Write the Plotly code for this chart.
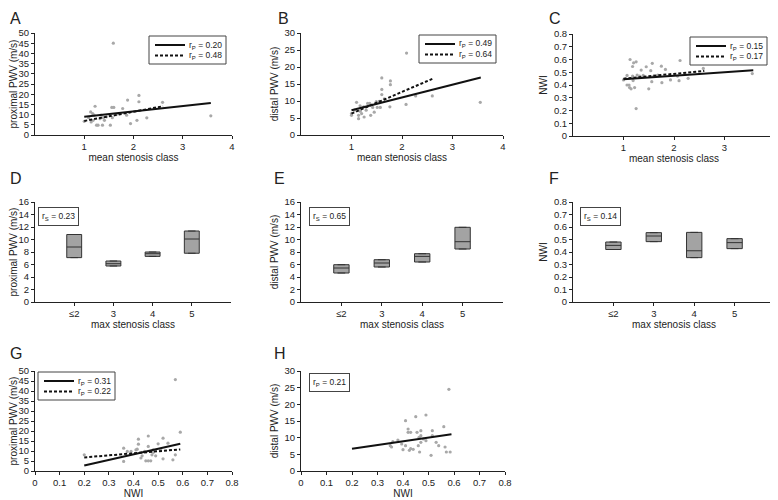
import plotly.graph_objects as go

# ---- scatter data ----
a_x = [1.0, 1.13, 1.17, 1.22, 1.2, 1.14, 1.25, 1.28, 1.37, 1.32, 1.38, 1.41, 1.45, 1.53, 1.57,
       1.56, 1.6, 1.59, 1.65, 1.78, 1.86, 1.88, 1.94, 2.11, 2.11, 2.07, 2.27, 2.59, 3.57, 1.09,
       1.34, 1.71, 1.18]
a_y = [6.7, 11.3, 10.5, 14.1, 9.7, 6.4, 4.8, 4.8, 4.8, 8.0, 8.5, 7.2, 8.9, 4.8, 8.5,
       13.5, 13.5, 45.0, 10.0, 13.0, 9.7, 17.1, 5.6, 19.4, 16.3, 7.2, 8.4, 16.0, 9.4, 8.5,
       9.7, 10.5, 7.2]

b_x = [1.0, 1.0, 1.1, 1.14, 1.14, 1.17, 1.2, 1.24, 1.25, 1.29, 1.32, 1.36, 1.38, 1.42, 1.45,
       1.49, 1.51, 1.57, 1.6, 1.6, 1.6, 1.76, 1.77, 1.77, 2.08, 2.09, 2.27, 2.6, 3.55, 1.17,
       1.06, 1.55, 1.65]
b_y = [5.8, 6.3, 9.6, 4.8, 5.8, 7.0, 6.3, 8.3, 5.3, 7.3, 9.3, 9.3, 5.8, 8.1, 6.7,
       9.8, 8.1, 8.1, 16.8, 13.4, 11.9, 8.3, 15.9, 14.8, 9.0, 24.1, 11.5, 11.5, 9.6, 8.6,
       7.3, 9.9, 10.6]

c_x = [1.0, 1.07, 1.11, 1.12, 1.13, 1.15, 1.18, 1.2, 1.22, 1.25, 1.25, 1.19, 1.27, 1.32, 1.35,
       1.39, 1.45, 1.5, 1.54, 1.56, 1.57, 1.6, 1.68, 1.75, 1.76, 1.83, 1.93, 2.07, 2.12, 2.1,
       2.28, 2.58, 3.55, 1.07, 1.18]
c_y = [0.44, 0.475, 0.40, 0.38, 0.60, 0.37, 0.545, 0.574, 0.38, 0.582, 0.215, 0.435, 0.478, 0.47, 0.517,
       0.475, 0.543, 0.37, 0.512, 0.426, 0.57, 0.47, 0.478, 0.548, 0.418, 0.522, 0.44, 0.47, 0.592, 0.434,
       0.452, 0.53, 0.49, 0.40, 0.47]

g_x = [0.2, 0.36, 0.36, 0.39, 0.41, 0.415, 0.42, 0.42, 0.43, 0.435, 0.445, 0.45, 0.46, 0.46, 0.47,
       0.475, 0.48, 0.49, 0.5, 0.51, 0.52, 0.52, 0.54, 0.56, 0.57, 0.57, 0.59, 0.46, 0.48, 0.375]
g_y = [8.1, 11.4, 4.8, 9.8, 10.6, 10.9, 13.4, 15.9, 6.5, 7.6, 9.8, 5.1, 12.3, 5.1, 5.1,
       8.1, 10.6, 7.6, 13.6, 10.6, 6.1, 16.4, 13.9, 5.6, 8.1, 45.7, 19.4, 17.5, 9.3, 9.8]

h_x = [0.35, 0.355, 0.36, 0.38, 0.395, 0.4, 0.41, 0.41, 0.42, 0.42, 0.425, 0.43, 0.43, 0.45, 0.44,
       0.455, 0.46, 0.465, 0.47, 0.47, 0.47, 0.48, 0.49, 0.49, 0.51, 0.515, 0.515, 0.53, 0.54, 0.56,
       0.565, 0.57, 0.58, 0.585, 0.463]
h_y = [7.6, 7.2, 8.8, 9.3, 8.1, 6.4, 15.1, 7.6, 12.6, 11.6, 6.2, 11.6, 6.7, 16.3, 6.5,
       11.6, 7.6, 5.7, 12.1, 10.6, 8.6, 9.6, 16.8, 9.1, 4.7, 12.1, 10.6, 8.6, 7.6, 13.3,
       7.2, 5.7, 24.5, 5.7, 10.1]

# ---- regression line endpoints ----
a_fit1_x, a_fit1_y = [1.0, 3.57], [9.0, 15.7]
a_fit2_x, a_fit2_y = [1.0, 2.6], [6.9, 14.1]
b_fit1_x, b_fit1_y = [1.0, 3.56], [7.3, 16.9]
b_fit2_x, b_fit2_y = [1.0, 2.6], [6.3, 16.5]
c_fit1_x, c_fit1_y = [1.0, 3.57], [0.445, 0.515]
c_fit2_x, c_fit2_y = [1.0, 2.6], [0.45, 0.51]
g_fit1_x, g_fit1_y = [0.2, 0.59], [2.7, 13.6]
g_fit2_x, g_fit2_y = [0.2, 0.59], [6.8, 10.8]
h_fit1_x, h_fit1_y = [0.2, 0.59], [6.7, 11.0]

# ---- box data (max stenosis class) ----
classes = ['≤2', '3', '4', '5']
class_pos = [1, 2, 3, 4]
d_q1 = [7.1, 5.76, 7.3, 7.8]
d_med = [8.8, 6.13, 7.73, 10.08]
d_q3 = [10.8, 6.56, 8.0, 11.36]
e_q1 = [4.64, 5.6, 6.4, 8.48]
e_med = [5.44, 6.24, 7.3, 9.65]
e_q3 = [5.97, 6.77, 7.73, 11.95]
f_q1 = [0.42, 0.483, 0.355, 0.427]
f_med = [0.453, 0.528, 0.41, 0.475]
f_q3 = [0.48, 0.555, 0.557, 0.507]

# the page body keeps its 8px default margin, so the figure is drawn 8px in from the window edge;
# positions below are window pixels and get converted into figure coordinates
PAGE = 8
W, H = 778 - PAGE, 500 - PAGE
FONT = 'Liberation Sans, Arial, sans-serif'
INK = '#222'
DOT = '#a8a8a8'
DOTTED = '3px,2px'


def px(x):
    return max(x - PAGE, 0) / W


def py(y):
    return 1 - max(y - PAGE, 0) / H


# panel: (letter, label pos px, x-domain px, y-domain px, xtitle, ytitle, xrange, yrange, ydtick)
panels = [
    ('A', (0, 2), (35, 232), (33, 135), 'mean stenosis class', 'proximal PWV (m/s)', [0, 4], [0, 50], 5),
    ('B', (276, 2), (301, 503), (33, 135), 'mean stenosis class', 'distal PWV (m/s)', [0, 4], [0, 30], 5),
    ('C', (547, 2), (573, 775), (34, 136), 'mean stenosis class', 'NWI', [0, 4], [0, 0.8], 0.1),
    ('D', (0, 168), (35, 231), (202, 302), 'max stenosis class', 'proximal PWV (m/s)', [0, 5], [0, 16], 2),
    ('E', (272, 168), (301, 503), (202, 302), 'max stenosis class', 'distal PWV (m/s)', [0, 5], [0, 16], 2),
    ('F', (547, 168), (573, 775), (202, 302), 'max stenosis class', 'NWI', [0, 5], [0, 0.8], 0.1),
    ('G', (0, 343), (35, 232), (371, 471), 'NWI', 'proximal PWV (m/s)', [0, 0.8], [0, 50], 5),
    ('H', (272, 343), (301, 505), (371, 471), 'NWI', 'distal PWV (m/s)', [0, 0.8], [0, 30], 5),
]

fig = go.Figure()
layout = {}
annotations = []
shapes = []

for i, (letter, lp, xd, yd, xt, yt, xr, yr, ydt) in enumerate(panels, start=1):
    xa = 'xaxis' if i == 1 else f'xaxis{i}'
    ya = 'yaxis' if i == 1 else f'yaxis{i}'
    common = dict(showline=True, linecolor=INK, linewidth=1, ticks='outside', ticklen=3,
                  tickcolor=INK, tickwidth=1, showgrid=False, zeroline=False, automargin=False,
                  tickfont=dict(size=9.5, color=INK, family=FONT))
    if letter in 'ABC':
        xticks = dict(tickvals=[1, 2, 3, 4])
    elif letter in 'DEF':
        xticks = dict(tickvals=class_pos, ticktext=classes)
    else:
        xticks = dict(tickvals=[0, 0.1, 0.2, 0.3, 0.4, 0.5, 0.6, 0.7, 0.8])
    ystandoff = 0 if xd[0] < 100 else 4
    layout[xa] = dict(domain=[px(xd[0]), px(xd[1])], range=xr, anchor='y' if i == 1 else f'y{i}',
                      title=dict(text=xt, font=dict(size=10, color=INK, family=FONT), standoff=0),
                      **xticks, **common)
    layout[ya] = dict(domain=[py(yd[1]), py(yd[0])], range=yr, dtick=ydt, tick0=0,
                      anchor='x' if i == 1 else f'x{i}',
                      title=dict(text=yt, font=dict(size=10, color=INK, family=FONT), standoff=ystandoff),
                      **common)
    annotations.append(dict(text=letter, xref='paper', yref='paper', x=px(lp[0]), y=py(lp[1]),
                            xanchor='left', yanchor='top', showarrow=False,
                            font=dict(size=16, color=INK, family=FONT)))


def axes(i):
    return ('x', 'y') if i == 1 else (f'x{i}', f'y{i}')


def scatter_panel(i, xs, ys, fits):
    xa, ya = axes(i)
    fig.add_trace(go.Scatter(x=xs, y=ys, mode='markers', xaxis=xa, yaxis=ya, showlegend=False,
                             marker=dict(size=3.2, color=DOT)))
    for fx, fy, dash in fits:
        fig.add_trace(go.Scatter(x=fx, y=fy, mode='lines', xaxis=xa, yaxis=ya, showlegend=False,
                                 line=dict(color='#111', width=2, dash=dash)))


scatter_panel(1, a_x, a_y, [(a_fit1_x, a_fit1_y, 'solid'), (a_fit2_x, a_fit2_y, DOTTED)])
scatter_panel(2, b_x, b_y, [(b_fit1_x, b_fit1_y, 'solid'), (b_fit2_x, b_fit2_y, DOTTED)])
scatter_panel(3, c_x, c_y, [(c_fit1_x, c_fit1_y, 'solid'), (c_fit2_x, c_fit2_y, DOTTED)])
scatter_panel(7, g_x, g_y, [(g_fit1_x, g_fit1_y, 'solid'), (g_fit2_x, g_fit2_y, DOTTED)])
scatter_panel(8, h_x, h_y, [(h_fit1_x, h_fit1_y, 'solid')])

for i, q1, med, q3 in [(4, d_q1, d_med, d_q3), (5, e_q1, e_med, e_q3), (6, f_q1, f_med, f_q3)]:
    xa, ya = axes(i)
    fig.add_trace(go.Box(x=class_pos, q1=q1, median=med, q3=q3, lowerfence=q1, upperfence=q3,
                         xaxis=xa, yaxis=ya, width=0.38, showlegend=False, boxpoints=False,
                         fillcolor='#a3a3a3', line=dict(color='#333', width=1), hoverinfo='skip'))

# two-entry legend boxes (solid = all, dotted = second coefficient)
legend_boxes = [
    ((149, 36), ['r<sub>P</sub> = 0.20', 'r<sub>P</sub> = 0.48']),
    ((419, 35), ['r<sub>P</sub> = 0.49', 'r<sub>P</sub> = 0.64']),
    ((690, 37), ['r<sub>P</sub> = 0.15', 'r<sub>P</sub> = 0.17']),
    ((38, 372), ['r<sub>P</sub> = 0.31', 'r<sub>P</sub> = 0.22']),
]
for (lx, ly), labels in legend_boxes:
    shapes.append(dict(type='rect', xref='paper', yref='paper', x0=px(lx), x1=px(lx + 77),
                       y0=py(ly + 28), y1=py(ly), line=dict(color='#444', width=1), fillcolor='white'))
    for row, (label, dash) in enumerate(zip(labels, ['solid', DOTTED])):
        ry = ly + 9 + row * 10.5
        shapes.append(dict(type='line', xref='paper', yref='paper', x0=px(lx + 6), x1=px(lx + 36),
                           y0=py(ry), y1=py(ry), line=dict(color='#111', width=2, dash=dash)))
        annotations.append(dict(text=label, xref='paper', yref='paper', x=px(lx + 38), y=py(ry),
                                xanchor='left', yanchor='middle', showarrow=False,
                                font=dict(size=8.5, color=INK, family=FONT)))

# single-coefficient boxes
for text, (bx, by) in [('r<sub>S</sub> = 0.23', (38, 207)), ('r<sub>S</sub> = 0.65', (309, 207)),
                       ('r<sub>S</sub> = 0.14', (580, 207)), ('r<sub>P</sub> = 0.21', (309, 373))]:
    annotations.append(dict(text=text, xref='paper', yref='paper', x=px(bx), y=py(by),
                            xanchor='left', yanchor='top', showarrow=False, bgcolor='white',
                            bordercolor='#444', borderwidth=1, borderpad=3,
                            font=dict(size=8.5, color=INK, family=FONT)))

fig.update_layout(width=W, height=H, margin=dict(l=0, r=0, t=0, b=0, autoexpand=False),
                  paper_bgcolor='white', plot_bgcolor='white', showlegend=False,
                  font=dict(family=FONT, color=INK), annotations=annotations, shapes=shapes,
                  **layout)

fig.write_html("out.html")
